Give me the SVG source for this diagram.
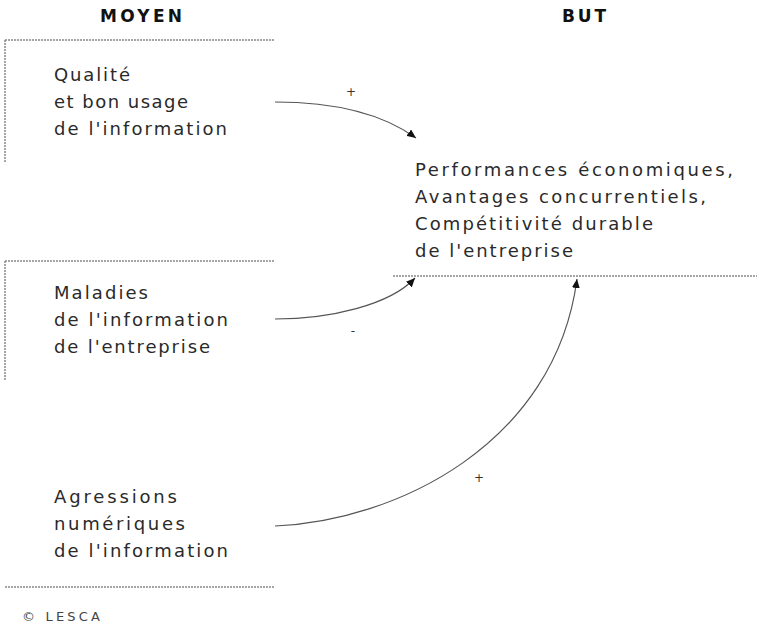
<svg xmlns="http://www.w3.org/2000/svg" width="757" height="631" viewBox="0 0 757 631">
<style>
.t{font-family:"DejaVu Sans",Verdana,sans-serif;font-size:18px;fill:#2a2a2a}
.h{font-family:"DejaVu Sans",Verdana,sans-serif;font-size:17px;font-weight:bold;fill:#111}
.s{font-family:"DejaVu Sans",Verdana,sans-serif;font-size:13px;fill:#444}
.sign{font-family:"DejaVu Sans",Verdana,sans-serif;font-size:12px;fill:#333}
.d{fill:none;stroke:#888;stroke-width:1.5;stroke-dasharray:2 1}
.c{fill:none;stroke:#555;stroke-width:1.2}
</style>
<defs>
<marker id="ah" markerUnits="userSpaceOnUse" markerWidth="10" markerHeight="8" refX="9" refY="4" orient="auto">
<path d="M0,0 L9,4 L0,8 Z" fill="#111"/>
</marker>
</defs>
<rect width="757" height="631" fill="#fff"/>

<g id="headers">
<text class="h" x="100" y="22" textLength="82" lengthAdjust="spacing">MOYEN</text>
<text class="h" x="562" y="22" textLength="44" lengthAdjust="spacing">BUT</text>
</g>

<g id="frames">
<path class="d" d="M5,40 H275 M5,40 V162"/>
<path class="d" d="M5,261 H275 M5,261 V381"/>
<path class="d" d="M5,587 H275"/>
<path class="d" d="M393,276 H757"/>
</g>

<g id="node-qualite">
<text class="t" x="54" y="81" textLength="76" lengthAdjust="spacing">Qualité</text>
<text class="t" x="54" y="108" textLength="134" lengthAdjust="spacing">et bon usage</text>
<text class="t" x="54" y="135" textLength="173" lengthAdjust="spacing">de l'information</text>
</g>

<g id="node-maladies">
<text class="t" x="54" y="299" textLength="94" lengthAdjust="spacing">Maladies</text>
<text class="t" x="54" y="326" textLength="174" lengthAdjust="spacing">de l'information</text>
<text class="t" x="54" y="353" textLength="156" lengthAdjust="spacing">de l'entreprise</text>
</g>

<g id="node-agressions">
<text class="t" x="54" y="503" textLength="123" lengthAdjust="spacing">Agressions</text>
<text class="t" x="54" y="530" textLength="131" lengthAdjust="spacing">numériques</text>
<text class="t" x="54" y="557" textLength="174" lengthAdjust="spacing">de l'information</text>
</g>

<g id="node-but">
<text class="t" x="415" y="176" textLength="318" lengthAdjust="spacing">Performances économiques,</text>
<text class="t" x="415" y="203" textLength="291" lengthAdjust="spacing">Avantages concurrentiels,</text>
<text class="t" x="415" y="230" textLength="238" lengthAdjust="spacing">Compétitivité durable</text>
<text class="t" x="415" y="257" textLength="158" lengthAdjust="spacing">de l'entreprise</text>
</g>

<g id="connectors">
<path class="c" d="M275,102 C330,102 380,112 416,138" marker-end="url(#ah)"/>
<path class="c" d="M275,319 C330,319 390,305 415,278" marker-end="url(#ah)"/>
<path class="c" d="M275,526 C395,521 555,445 577,279" marker-end="url(#ah)"/>
<text class="sign" x="351" y="96" text-anchor="middle">+</text>
<text class="sign" x="353" y="335" text-anchor="middle">-</text>
<text class="sign" x="479" y="482" text-anchor="middle">+</text>
</g>

<g id="credit">
<text class="s" x="22" y="621" textLength="78" lengthAdjust="spacing">© LESCA</text>
</g>
</svg>
